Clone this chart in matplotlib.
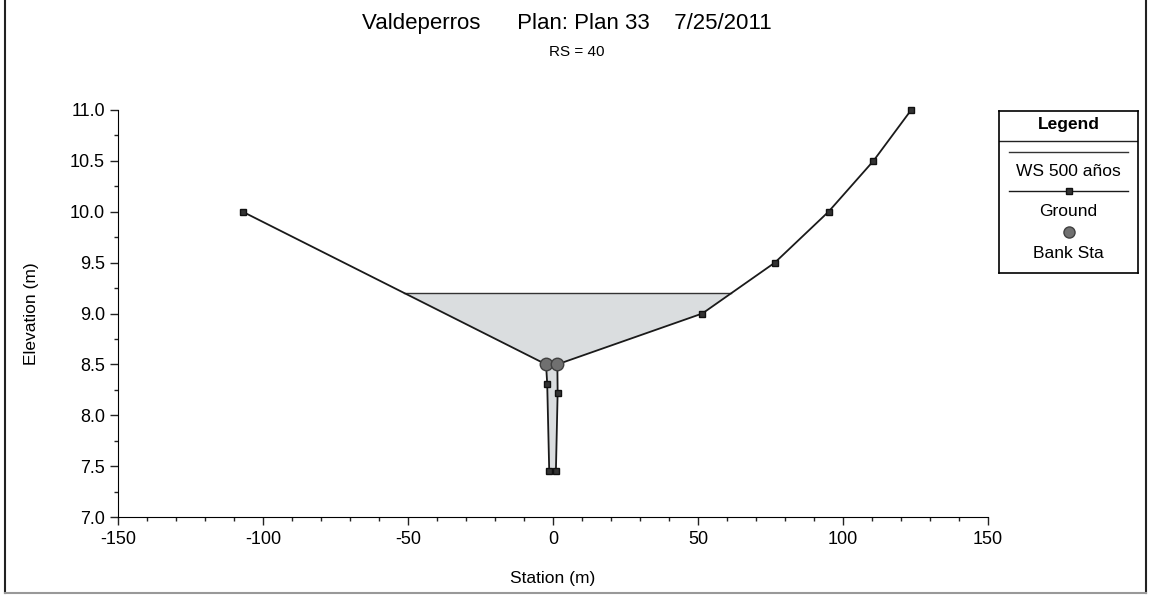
import matplotlib.pyplot as plt
from matplotlib.lines import Line2D

plt.rcParams['font.family'] = ['Liberation Sans', 'DejaVu Sans']

# cross section data
ground_x = [-107.0, -2.4, -2.0, -1.3, 1.0, 1.6, 1.5, 51.5, 76.5, 95.0, 110.5, 123.5]
ground_y = [10.0, 8.5, 8.31, 7.45, 7.45, 8.22, 8.5, 9.0, 9.5, 10.0, 10.5, 11.0]
bank_x = [-2.4, 1.5]
bank_y = [8.5, 8.5]
ws_elev = 9.2

x_ticks = [-150, -100, -50, 0, 50, 100, 150]
y_ticks = [7.0, 7.5, 8.0, 8.5, 9.0, 9.5, 10.0, 10.5, 11.0]

fig = plt.figure(figsize=(11.5, 5.96), dpi=100)
ax = fig.add_axes([118 / 1150, 1 - 517 / 596, 870 / 1150, 407 / 596])

# water area: ground below the water surface, closed along the WS line
poly = []
for i in range(len(ground_x) - 1):
    x0, y0, x1, y1 = ground_x[i], ground_y[i], ground_x[i + 1], ground_y[i + 1]
    if y0 <= ws_elev:
        poly.append((x0, y0))
    if (y0 - ws_elev) * (y1 - ws_elev) < 0:
        t = (ws_elev - y0) / (y1 - y0)
        poly.append((x0 + t * (x1 - x0), ws_elev))
if ground_y[-1] <= ws_elev:
    poly.append((ground_x[-1], ground_y[-1]))
px, py = zip(*poly)
ax.fill(px, py, color='#dadddf', lw=0, zorder=1)
ax.plot([px[0], px[-1]], [ws_elev, ws_elev], color='#333333', lw=1.0, zorder=2)

ax.plot(ground_x, ground_y, color='#1a1a1a', lw=1.3, marker='s', ms=5,
        mfc='#333333', mec='#111111', zorder=3, clip_on=False)
ax.plot(bank_x, bank_y, ls='none', marker='o', ms=9, mfc='#707070',
        mec='#404040', zorder=4)

ax.set_xlim(-150, 150)
ax.set_ylim(7.0, 11.0)
ax.set_xticks(x_ticks)
ax.set_xticklabels([str(v) for v in x_ticks])
ax.set_yticks(y_ticks)
ax.set_yticklabels(['%.1f' % v for v in y_ticks])
ax.set_xticks(range(-150, 151, 10), minor=True)
ax.set_yticks([7.0 + 0.25 * i for i in range(17)], minor=True)
ax.tick_params(which='major', length=6, width=1, labelsize=13, color='#222222')
ax.tick_params(which='minor', length=3, width=1, color='#222222')
ax.tick_params(axis='x', pad=4)
ax.spines['top'].set_visible(False)
ax.spines['right'].set_visible(False)
ax.set_xlabel('Station (m)', fontsize=12.5, labelpad=17)
ax.set_ylabel('Elevation (m)', fontsize=12.5, labelpad=22)

fig.text(567 / 1150, 1 - 24 / 596, 'Valdeperros      Plan: Plan 33    7/25/2011',
         ha='center', va='center', fontsize=16)
fig.text(577 / 1150, 1 - 52 / 596, 'RS = 40', ha='center', va='center', fontsize=11)

# HEC-RAS style legend box
lg = fig.add_axes([999 / 1150, 1 - 273 / 596, 139 / 1150, 162 / 596])
lg.set_xlim(0, 139)
lg.set_ylim(273, 111)
lg.set_xticks([])
lg.set_yticks([])
for s in lg.spines.values():
    s.set_linewidth(1.2)
lg.text(69.5, 125, 'Legend', ha='center', va='center', fontsize=12.5, fontweight='bold')
lg.plot([0, 139], [141, 141], color='#222222', lw=1.0)
lg.plot([10, 129], [152, 152], color='#333333', lw=1.0)
lg.text(69.5, 172, 'WS 500 años', ha='center', va='center', fontsize=12.5)
lg.plot([10, 129], [191, 191], color='#1a1a1a', lw=1.0)
lg.plot([69.5], [191], marker='s', ms=5, mfc='#333333', mec='#111111')
lg.text(69.5, 212, 'Ground', ha='center', va='center', fontsize=12.5)
lg.plot([69.5], [232], marker='o', ms=8, mfc='#707070', mec='#404040')
lg.text(69.5, 253, 'Bank Sta', ha='center', va='center', fontsize=12.5)

# outer frame
fig.add_artist(Line2D([5 / 1150, 5 / 1150], [0.005, 1], color='#222222', lw=1.5))
fig.add_artist(Line2D([1146 / 1150, 1146 / 1150], [0.005, 1], color='#222222', lw=1.5))
fig.add_artist(Line2D([5 / 1150, 1146 / 1150], [0.005, 0.005], color='#999999', lw=1.5))

fig.savefig('out.png', dpi=100)
